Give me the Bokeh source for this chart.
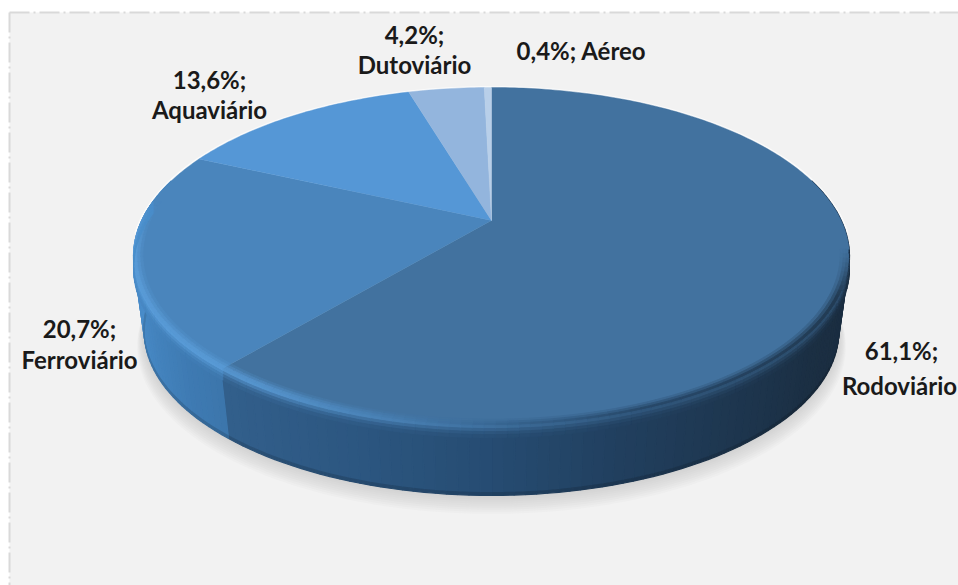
import numpy as np
from bokeh.plotting import figure
from bokeh.models import Range1d
from bokeh.core.properties import value
from bokeh.embed import file_html
from bokeh.resources import INLINE

# ---- data ----
categories = ["Rodoviário", "Ferroviário", "Aquaviário", "Dutoviário", "Aéreo"]
shares = [61.1, 20.7, 13.6, 4.2, 0.4]
share_labels = ["61,1%", "20,7%", "13,6%", "4,2%", "0,4%"]
top_colors = ["#42729f", "#4a85bc", "#5597d6", "#93b5dd", "#b8cfe9"]

# ---- page geometry ----
W, H = 958, 585
CX, CY = 491, 220           # apex of the pie on screen
A, B, K = 349.8, 161.4, 0.213  # perspective of the tilted disc
DROP, BOTTOM_SCALE = 76, 0.97

def proj(theta, r=1.0, drop=0.0, scale=1.0):
    """theta clockwise from top, in radians."""
    u, v = r * np.sin(theta), r * np.cos(theta)
    w = 1 + K * v
    return CX + scale * A * u / w, CY + drop - scale * B * v / w

def hex2rgb(h):
    return np.array([int(h[i:i + 2], 16) for i in (1, 3, 5)], float)

def rgb2hex(c):
    c = np.clip(np.round(c), 0, 255).astype(int)
    return "#%02x%02x%02x" % tuple(c)

def ramp(x, xs, cols):
    arr = np.array([hex2rgb(c) for c in cols])
    return np.array([np.interp(x, xs, arr[:, i]) for i in range(3)])

fractions = np.cumsum([0] + shares) / sum(shares)
edges = 2 * np.pi * fractions

p = figure(width=W, height=H, output_backend="svg", toolbar_location=None,
           x_range=Range1d(0, W), y_range=Range1d(H, 0),
           x_axis_location=None, y_axis_location=None,
           min_border=0, outline_line_color=None, background_fill_color="white",
           border_fill_color="white")
p.grid.visible = False

# panel
p.quad(left=[9], right=[W], top=[12], bottom=[H], fill_color="#f2f2f2", line_color=None)
p.line([9, W], [12, 12], line_color="#d9d9d9", line_width=2, line_dash="20 4 2 4")
p.line([9, 9], [12, H], line_color="#d9d9d9", line_width=2, line_dash="20 4 2 4")

# soft shadow below the disc
t = np.linspace(0, 2 * np.pi, 240)
for i in range(10):
    sx, sy = proj(t, 1.0, DROP + 1.6 * i, BOTTOM_SCALE + 0.0022 * i)
    p.patch(sx, sy, fill_color="#8a8a8a", fill_alpha=0.035, line_color=None)

# light halo on the far rim
hx, hy = proj(np.linspace(-1.65, 1.65, 160), 1.004)
p.line(hx, hy, line_color="#ffffff", line_alpha=0.7, line_width=2)

rodo_xs = [-1, -0.75, -0.3, 0.0, 0.3, 0.8, 1]
rodo_cs = ["#38689a", "#34628f", "#2c5680", "#264c72", "#213f5e", "#1b2f43", "#1a2c3f"]
ferro_xs = [-1, -0.9, -0.75, -0.6]
ferro_cs = ["#4a8dca", "#4585c0", "#3e7ab2", "#3b74a8"]

def wall_color(theta):
    u = np.sin(theta)
    if theta < edges[1]:
        return ramp(u, rodo_xs, rodo_cs)
    return ramp(u, ferro_xs, ferro_cs)

def top_color(theta):
    i = int(np.searchsorted(edges, theta, side="right") - 1)
    return hex2rgb(top_colors[min(max(i, 0), len(top_colors) - 1)])

# side wall, drawn as thin strips so the shade can change along the rim
thetas = np.linspace(np.radians(75), np.radians(285), 141)
xs, ys, cols = [], [], []
for a, b in zip(thetas[:-1], thetas[1:]):
    m = (a + b) / 2
    base = wall_color(m)
    for f0, f1, sh in [(0, .96, 1.0), (.96, 1.0, .86)]:
        x0a, y0a = proj(a, 1, DROP * f0, 1 - (1 - BOTTOM_SCALE) * f0)
        x0b, y0b = proj(b, 1, DROP * f0, 1 - (1 - BOTTOM_SCALE) * f0)
        x1a, y1a = proj(a, 1, DROP * f1, 1 - (1 - BOTTOM_SCALE) * f1)
        x1b, y1b = proj(b, 1, DROP * f1, 1 - (1 - BOTTOM_SCALE) * f1)
        xs.append([x0a, x0b, x1b, x1a])
        ys.append([y0a, y0b, y1b, y1a])
        cols.append(rgb2hex(base * sh))
p.patches(xs, ys, fill_color=cols, line_color=cols, line_width=1.2)

# top face
for i, c in enumerate(top_colors):
    arc = np.linspace(edges[i], edges[i + 1], max(3, int(shares[i] * 4)))
    ax, ay = proj(arc)
    p.patch(np.r_[CX, ax], np.r_[CY, ay], fill_color=c, line_color=c, line_width=0.4)

# bevel: bands crossing the edge between top face and wall
def highlight(theta):
    return float(np.interp(np.sin(theta), [-1, -0.55, -0.2, 0.1, 0.35], [.85, .85, .5, .18, 0]))

bands = [(.975, .983, .2), (.983, .991, .5), (.991, 1.0, .8)]
wall_bands = [(0, 3, .9), (3, 6, .55), (6, 9, .25), (9, 12, .08)]
bx, by, bc = [], [], []
start, stop = np.radians(100), np.radians(277)
thetas = np.linspace(start, stop, 119)
hi = hex2rgb("#5fa3e0")
for a, b in zip(thetas[:-1], thetas[1:]):
    m = (a + b) / 2
    s = highlight(m)
    fade = float(np.clip((stop - m) / np.radians(14), 0, 1)) * float(np.clip((m - start) / np.radians(15), 0, 1))
    top = top_color(m)
    wall = wall_color(m)
    for r0, r1, g in bands:
        xa0, ya0 = proj(a, r0); xb0, yb0 = proj(b, r0)
        xa1, ya1 = proj(a, r1); xb1, yb1 = proj(b, r1)
        target = hi * s + wall * (1 - s)
        col = top + (target - top) * g * fade
        bx.append([xa0, xb0, xb1, xa1]); by.append([ya0, yb0, yb1, ya1]); bc.append(rgb2hex(col))
    for d0, d1, g in wall_bands:
        xa0, ya0 = proj(a, 1, d0); xb0, yb0 = proj(b, 1, d0)
        xa1, ya1 = proj(a, 1, d1); xb1, yb1 = proj(b, 1, d1)
        target = hi * s + (top * 0.5 + wall * 0.5) * (1 - s)
        col = wall + (target - wall) * g * fade
        bx.append([xa0, xb0, xb1, xa1]); by.append([ya0, yb0, yb1, ya1]); bc.append(rgb2hex(col))
p.patches(bx, by, fill_color=bc, line_color=bc, line_width=0.9)

label_font = value("Lato")
def label(txt, x, y):
    p.text([x], [y], text=[txt], text_font=label_font, text_font_style="bold",
           text_font_size="24px", text_color="#1a1a1a", text_align="center", text_baseline="middle")

label(f"{share_labels[0]};", 901, 350)
label(categories[0], 899, 385)
label(f"{share_labels[1]};", 79, 328)
label(categories[1], 79, 359)
label(f"{share_labels[2]};", 209, 79)
label(categories[2], 209, 109)
label(f"{share_labels[3]};", 414, 34)
label(categories[3], 414, 64)
label(f"{share_labels[4]}; {categories[4]}", 581, 50)

open("out.html", "w").write(file_html(p, INLINE))
